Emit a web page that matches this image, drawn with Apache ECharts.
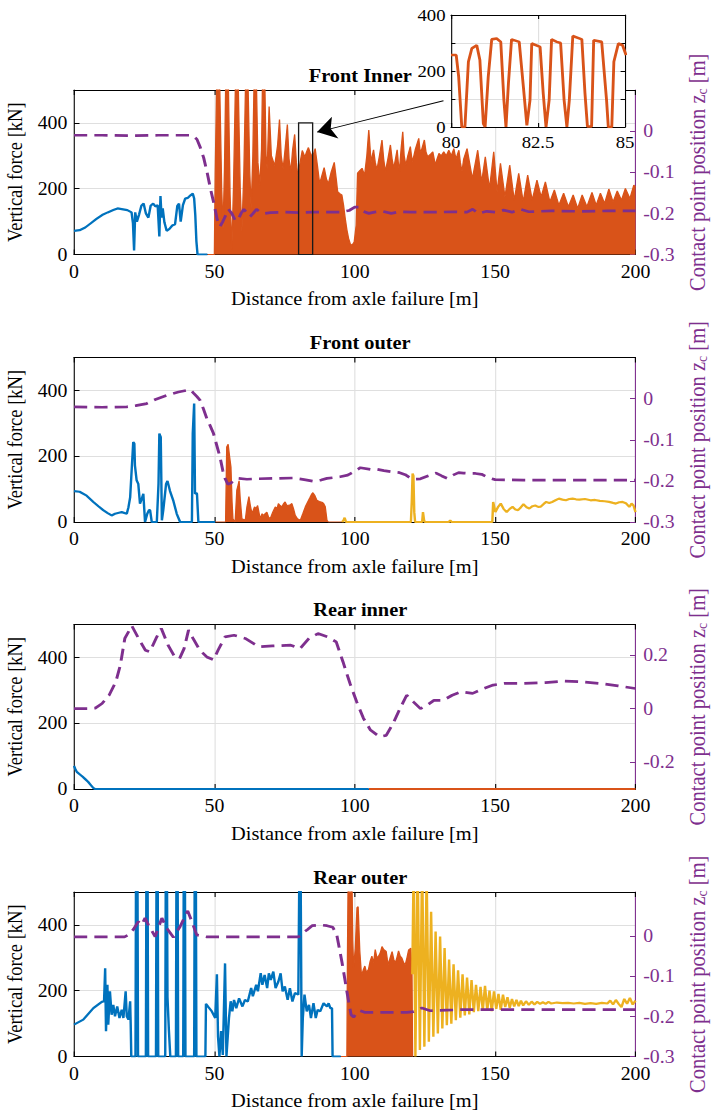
<!DOCTYPE html>
<html>
<head>
<meta charset="utf-8">
<script src="https://cdn.jsdelivr.net/npm/echarts@6/dist/echarts.min.js"></script>
<style>
  html, body { margin: 0; padding: 0; background: #fff; overflow: hidden; }
  #wrap { width: 713px; height: 1116px; overflow: hidden; }
  #chart { width: 648px; height: 1116px; transform: scaleX(1.10031); transform-origin: 0 0; }
</style>
</head>
<body>
<div id="wrap"><div id="chart"></div></div>
<script>
// ---------------------------------------------------------------
// Wheel-rail vertical forces and contact point position after an
// axle failure, four wheels (front/rear, inner/outer).
// Points are [distance (m), force (kN)] or [distance (m), z_c (m)].
// ---------------------------------------------------------------

const panelTitles = ['Front Inner', 'Front outer', 'Rear inner', 'Rear outer'];
const distanceRange = [0, 200, 50];          // min, max, step (m)
const forceRange = [0, 500, 200];            // min, max, step (kN)
const zcRanges = [[-0.3, 0.1], [-0.3, 0.1], [-0.3, 0.314], [-0.3, 0.11]];
const zcTickValues = [
  [-0.3, -0.2, -0.1, 0],
  [-0.3, -0.2, -0.1, 0],
  [-0.2, 0, 0.2],
  [-0.3, -0.2, -0.1, 0]
];
const insetRange = { xMin: 80, xMax: 85, xStep: 2.5, yMin: 0, yMax: 400, yStep: 100 };
const insetYLabels = [0, 200, 400];
const zoomBox = [[80, 0], [85, 400]];
const zoomArrow = [[131.6, 467], [86.6, 372]];

// ---- Front inner ----
const frontInnerBlue = [
  [0,72],[2,74],[4,82],[6,95],[8,108],[10,120],[12,128],[14,135],[15.5,140],[17,138],
  [19,135],[20.5,128],[21,95],[21.4,12],[21.8,128],[22.4,100],[23.2,122],[24,148],
  [24.8,155],[25.6,125],[26.5,112],[27.3,148],[28.2,155],[29,146],[29.8,150],[30.4,55],
  [30.8,178],[31.2,112],[31.6,140],[32.2,98],[33,72],[34,78],[35,88],[36,92],[36.8,148],
  [37.4,155],[38,100],[38.8,150],[39.6,170],[40.5,172],[41.5,180],[42.3,185],[42.8,170],
  [43.2,120],[43.6,40],[44,0],[46,0],[47.5,0]
];
const frontInnerOrange = [
  [47.5,0],[50.0,0],[50.3,250],[50.9,560],[51.8,560],[52.6,200],[53.1,80],[53.6,260],
  [54.1,560],[54.9,560],[55.6,180],[56.2,15],[56.8,200],[57.6,560],[58.4,560],[59.2,200],
  [59.8,70],[60.5,250],[61.2,560],[61.9,560],[62.6,250],[63.1,140],[63.7,300],[64.2,560],
  [64.9,560],[65.5,280],[66.2,210],[66.8,320],[67.2,560],[67.9,560],[68.4,300],[68.8,260],
  [69.5,450],[70.3,300],[71.5,270],[72.5,330],[73.2,410],[73.8,300],[74.5,260],[75.3,330],
  [76.0,395],[76.6,290],[77.2,250],[77.9,320],[78.6,365],[79.2,280],[79.7,240],[80.1,257],
  [80.8,292],[81.3,316],[81.9,304],[82.3,298],[82.9,313],[83.5,325],[84.1,310],[84.8,298],
  [85.3,305],[85.9,322],[86.7,270],[87.5,215],[88.3,240],[89.1,264],[89.9,230],[90.6,215],
  [91.6,250],[92.7,280],[93.4,230],[93.9,191],[94.7,185],[95.4,181],[96.0,150],[96.6,110],
  [97.2,75],[97.8,49],[98.4,32],[99.0,28],[99.8,38],[100.5,89],[101.0,247],[101.8,255],
  [102.6,262],[103.5,241],[104.3,300],[105.0,378],[105.8,282],[106.7,318],[107.3,280],
  [107.9,257],[108.8,300],[109.7,348],[110.3,290],[110.9,252],[111.8,290],[112.7,333],
  [113.3,290],[113.9,262],[114.5,290],[115.1,318],[115.5,280],[115.9,252],[116.5,320],
  [117.1,373],[117.6,300],[118.2,272],[118.9,300],[119.8,328],[120.2,300],[120.6,282],
  [121.6,320],[122.8,353],[123.2,320],[123.6,312],[124.2,330],[124.8,348],[125.4,310],
  [126.0,297],[127.0,305],[127.8,312],[128.3,290],[128.7,272],[129.3,290],[130.0,307],
  [130.8,300],[131.7,312],[132.6,300],[133.5,317],[134.4,300],[135.3,322],[135.8,300],
  [136.2,292],[136.6,305],[137.1,317],[137.6,280],[138.2,252],[138.8,290],[140.0,322],
  [141.9,230],[143.8,317],[145.2,220],[146.5,297],[148.0,200],[149.5,312],[150.7,190],
  [151.9,277],[153.5,175],[155.2,272],[156.8,165],[158.4,247],[160.0,160],[161.6,241],
  [163.2,165],[164.9,226],[166.4,175],[167.9,221],[169.5,160],[171.1,196],[172.7,150],
  [174.4,186],[176.1,145],[177.8,181],[179.4,140],[181.0,181],[182.7,145],[184.5,189],
  [186.0,150],[187.5,186],[189.0,155],[190.5,199],[192.0,160],[193.5,193],[195.0,165],
  [196.4,201],[198.0,170],[199.4,211],[200,205]
];
const frontInnerZc = [
  [0,-0.01],[10,-0.01],[20,-0.011],[30,-0.01],[41,-0.01],[42.5,-0.012],[43.8,-0.02],
  [45,-0.04],[46.2,-0.065],[47.4,-0.1],[48.6,-0.14],[49.8,-0.175],[51,-0.215],[52,-0.232],
  [53,-0.22],[54,-0.205],[55,-0.19],[56.2,-0.2],[57.5,-0.218],[58.5,-0.215],[59.5,-0.2],
  [60.5,-0.19],[61.5,-0.198],[62.7,-0.208],[63.8,-0.2],[65,-0.19],[66.5,-0.198],[68,-0.2],
  [70,-0.198],[75,-0.197],[80,-0.198],[85,-0.197],[90,-0.197],[95,-0.197],[98,-0.193],
  [100,-0.185],[101.5,-0.185],[103,-0.195],[105,-0.2],[107,-0.197],[110,-0.195],[113,-0.2],
  [116,-0.196],[120,-0.197],[125,-0.197],[130,-0.197],[135,-0.196],[140,-0.197],[142,-0.19],
  [144,-0.2],[147,-0.195],[150,-0.197],[153,-0.192],[156,-0.197],[159,-0.19],[162,-0.196],
  [170,-0.194],[180,-0.195],[190,-0.194],[200,-0.194]
];
const frontInnerDetail = [
  [80,257],[80.15,257],[80.22,180],[80.31,0],[80.4,0],[80.5,233],[80.6,281],[80.74,292],
  [80.83,239],[80.93,12],[80.98,0],[81.07,179],[81.17,313],[81.31,316],[81.43,304],
  [81.52,96],[81.58,0],[81.65,155],[81.74,313],[81.96,304],[82.08,143],[82.18,6],
  [82.27,96],[82.32,298],[82.56,286],[82.65,120],[82.73,0],[82.82,96],[82.89,313],
  [83.04,304],[83.15,300],[83.25,96],[83.33,0],[83.4,96],[83.5,325],[83.76,313],
  [83.85,120],[83.92,2],[84.04,2],[84.1,310],[84.33,304],[84.47,96],[84.52,0],[84.62,0],
  [84.68,233],[84.81,298],[84.93,292],[85.03,257]
];

// ---- Front outer ----
const frontOuterBlue = [
  [0,94],[2,92],[4.5,80],[6.9,61],[8.7,48],[10.4,36],[12,27],[13.4,20],[14.6,25],[16,28],
  [17,30],[18.8,25],[19.4,45],[20,75],[20.6,167],[21.1,243],[21.5,238],[21.7,172],
  [22.3,127],[22.9,116],[23.5,56],[24.1,70],[24.7,86],[25.3,0],[26.1,25],[26.7,36],
  [27.1,36],[27.7,0],[29.5,0],[30.1,116],[30.4,269],[30.9,258],[31.3,5],[31.8,36],
  [32.8,116],[33.3,125],[34.2,94],[35.4,64],[36.6,25],[37.8,0],[42,0],[42.3,269],
  [42.8,360],[43.1,86],[43.5,88],[43.8,86],[44.3,0],[50.3,0]
];
const frontOuterOrange = [
  [50.3,0],[54.0,0],[54.4,228],[54.9,236],[55.4,200],[55.9,167],[56.3,60],[56.6,10],
  [57.4,0],[58,97],[58.4,110],[58.8,125],[59.2,70],[59.8,10],[61,5],[61.6,46],[62.3,77],
  [62.8,50],[63.4,25],[64.3,46],[64.8,40],[65.4,50],[66.3,10],[67.0,25],[67.5,20],
  [68.1,25],[68.7,30],[69.3,15],[69.9,10],[70.8,30],[71.7,46],[72.3,40],[72.8,56],
  [73.4,50],[74,46],[74.6,55],[75.2,61],[75.8,50],[76.4,51],[77,52],[77.6,56],[78.2,40],
  [78.8,20],[79.6,10],[80.6,5],[81.5,25],[82.4,46],[83.2,60],[84.1,75],[84.6,84],
  [85.1,89],[85.8,80],[86.5,66],[87.4,62],[88.3,60],[88.9,56],[89.5,46],[90.1,5],
  [90.6,0],[95.5,0]
];
const frontOuterYellow = [
  [95.5,0],[96.0,5],[96.4,13],[96.9,0],[120.0,0],[120.3,60],[120.6,147],[120.9,140],
  [121.2,30],[121.5,0],[124.0,0],[124.3,30],[124.7,5],[125.0,0],[133.5,0],[134,5],
  [134.5,0],[149.0,0],[149.3,61],[150.1,30],[151,45],[152,56],[153,40],[154.1,30],
  [155.2,40],[156.2,46],[157.2,38],[158.2,36],[159.2,45],[160.1,54],[161.2,45],[162.2,41],
  [163.3,48],[164.3,50],[165.3,46],[166.3,47],[167.3,55],[168.2,61],[169.3,58],[170.3,61],
  [171.5,66],[172.7,71],[174,68],[175.2,66],[176.4,70],[177.6,71],[178.8,69],[180,68],
  [182,70],[184,66],[185.6,67],[187.3,64],[189,63],[190.6,61],[192,58],[193,56],
  [194.2,60],[195.4,61],[196.6,57],[197.8,46],[198.6,56],[199.3,50],[200,30]
];
const frontOuterZc = [
  [0,-0.02],[10,-0.021],[18.8,-0.02],[22,-0.017],[25.9,-0.012],[29,-0.002],[33,0.008],
  [37.2,0.016],[40,0.02],[41.4,0.022],[42.5,0.014],[43.8,0.005],[44.9,-0.004],[46.1,-0.025],
  [47.3,-0.048],[48.5,-0.066],[49.7,-0.085],[50.9,-0.115],[52,-0.142],[53,-0.175],
  [53.8,-0.194],[54.8,-0.208],[56,-0.205],[56.8,-0.199],[58.6,-0.194],[61.6,-0.196],
  [65,-0.195],[71,-0.194],[78.2,-0.193],[82,-0.197],[85.3,-0.201],[88,-0.198],[90.1,-0.194],
  [94.8,-0.19],[97.5,-0.186],[99.6,-0.178],[102,-0.168],[105.6,-0.172],[108,-0.172],
  [110.4,-0.175],[113,-0.178],[116,-0.18],[118,-0.185],[120,-0.194],[121.5,-0.196],
  [123.4,-0.195],[126,-0.188],[129,-0.181],[131,-0.188],[133,-0.194],[135,-0.186],
  [137,-0.18],[138.7,-0.181],[141,-0.182],[143,-0.182],[145.2,-0.184],[147.5,-0.192],
  [150,-0.197],[160,-0.198],[170,-0.198],[180,-0.198],[190,-0.198],[200,-0.198]
];

// ---- Rear inner ----
const rearInnerBlue = [
  [0,70],[0.5,60],[1,52],[2,45],[3,38],[4,30],[5,22],[6,12],[7,2],[7.5,0],[105,0]
];
const rearInnerOrange = [[105,0],[200,0]];
const rearInnerZc = [
  [0,0.0],[5,0.0],[7.6,0.002],[10,0.019],[12.5,0.05],[14.9,0.1],[16.5,0.162],[18.1,0.262],
  [20.6,0.309],[23,0.262],[25.4,0.218],[27,0.212],[29.5,0.268],[31.1,0.299],[33.5,0.237],
  [35.9,0.193],[37.6,0.187],[39.2,0.224],[40.8,0.293],[42.4,0.262],[44.8,0.218],[47.3,0.193],
  [49.7,0.182],[51.3,0.218],[53.8,0.268],[57,0.274],[61,0.262],[65.9,0.231],[70.7,0.234],
  [77.2,0.237],[80.5,0.224],[83.7,0.262],[86.9,0.28],[90.2,0.268],[93.4,0.249],[95.8,0.175],
  [98.3,0.094],[100.7,0.025],[103.1,-0.036],[105.6,-0.08],[108.8,-0.105],[111.2,-0.1],
  [113.7,-0.055],[116.1,0.0],[118.5,0.05],[120.9,0.025],[123.4,0.0],[125.8,0.013],
  [128.2,0.031],[131.5,0.031],[134.7,0.05],[137.9,0.063],[142,0.057],[146,0.075],
  [149.3,0.088],[153.3,0.094],[159.8,0.094],[167.9,0.097],[174.4,0.103],[180.8,0.1],
  [187.3,0.094],[193.8,0.085],[200,0.075]
];

// ---- Rear outer ----
const rearOuterBlue = [
  [0,97],[3.3,112],[6.9,147],[9.9,166],[10.7,168],[11.1,268],[11.4,77],[11.9,218],[12.2,97],
  [12.8,198],[13.4,127],[14,157],[14.6,122],[15.4,152],[16.2,117],[17,142],[17.6,117],
  [18.4,198],[18.8,122],[19.4,112],[20,168],[20.2,97],[20.4,0],[21.9,0],[22.1,600],
  [22.6,600],[22.8,0],[25.6,0],[25.8,600],[26.2,600],[26.4,0],[29.2,0],[29.4,600],
  [29.8,600],[30,0],[32.5,0],[32.7,600],[33.1,600],[33.3,180],[33.8,80],[34.3,0],[36.3,0],
  [36.5,600],[36.9,600],[37.1,0],[38.9,0],[39.1,600],[39.5,600],[39.7,0],[42.8,0],[43,600],
  [43.4,600],[43.6,0],[46.8,0],[47,160],[47.9,150],[49.1,137],[50.3,117],[50.9,250],
  [51.3,60],[51.8,0],[52.4,77],[53,5],[53.8,283],[54.3,0],[55.2,117],[55.8,168],[56.4,137],
  [57,172],[57.8,147],[58.8,177],[60,152],[60.9,172],[61.9,167],[63.1,208],[63.7,183],
  [64.9,218],[65.5,198],[66.5,253],[67.1,218],[67.9,248],[68.8,208],[69.4,253],[70.1,233],
  [71,258],[71.8,208],[72.8,228],[73.6,253],[74.3,198],[75.1,213],[76.1,172],[76.9,208],
  [77.8,167],[78.7,193],[79.9,188],[80.3,600],[80.7,600],[81.1,0],[81.5,117],[82.1,188],
  [82.9,137],[83.7,157],[84.4,117],[85.3,162],[86.1,117],[86.8,142],[87.7,137],[88.9,162],
  [90.1,152],[90.7,162],[91.3,147],[91.9,147],[92.1,0],[95,0]
];
const rearOuterOrange = [
  [95,0],[97.2,0],[97.4,300],[97.7,600],[98.9,600],[99.3,350],[99.6,269],[100.2,330],
  [100.8,452],[101.2,455],[101.8,320],[102.4,245],[103,262],[103.6,275],[104.2,255],
  [104.9,265],[105.5,290],[106.1,305],[106.7,285],[107.3,325],[107.9,300],[108.5,305],
  [109.1,315],[109.7,334],[110.3,325],[111.2,319],[111.6,295],[112,279],[112.6,300],
  [113.3,319],[113.9,295],[114.4,284],[115,300],[115.6,321],[116.2,305],[116.8,299],
  [117.4,285],[118,279],[118.6,300],[119.2,324],[120,329],[120.4,248],[120.6,0]
];
const rearOuterYellow = [
  [120.5,250],[121.0,600],[121.6,0],[122.4,600],[123.2,20],[124.0,600],[124.8,30],
  [125.6,560],[126.4,45],[127.2,440],[128.0,60],[128.8,380],[129.6,70],[130.4,365],
  [131.2,85],[132.0,330],[132.8,95],[133.6,295],[134.4,100],[135.2,280],[136.0,110],
  [136.8,262],[137.6,118],[138.4,250],[139.2,125],[140.0,240],[140.8,128],[141.6,232],
  [142.4,135],[143.2,218],[144.0,138],[144.8,212],[145.6,140],[146.4,215],[147.2,140],
  [148.0,200],[148.8,138],[149.6,198],[150.4,145],[151.2,190],[152.0,142],[152.8,188],
  [153.6,150],[154.4,180],[155.2,148],[156.0,175],[156.8,152],[157.6,172],[158.4,153],
  [159.2,170],[160.0,155],[161,168],[162,157],[163,167],[164,158],[165,166],[166,160],
  [167,165],[168,160],[169,166],[170,161],[172,164],[174,162],[176,163],[178,161],
  [180,163],[182,160],[184,162],[186,160],[188,163],[190,161],[191,170],[192,158],
  [193,172],[194,160],[195,150],[196,175],[197,160],[198,178],[199,158],[200,170]
];
const rearOuterZc = [
  [0,-0.002],[10,-0.002],[18,-0.002],[19.4,0.003],[21.1,0.016],[22.9,0.036],[24.1,0.028],
  [25.3,0.045],[26.5,0.028],[28.9,-0.001],[31.3,0.045],[33,0.02],[35.4,-0.003],[37.8,0.024],
  [40.5,0.063],[42,0.036],[43.7,0.003],[47.3,-0.002],[60,-0.002],[70,-0.002],[80,-0.002],
  [81.5,0.008],[83.1,0.016],[84.8,0.026],[87.8,0.028],[90.1,0.026],[92.2,0.022],
  [93.6,0.003],[94.5,-0.03],[95.4,-0.063],[96.3,-0.1],[97.2,-0.138],[98,-0.17],
  [98.7,-0.196],[99.6,-0.202],[100.8,-0.19],[101.9,-0.186],[103.5,-0.19],[105.5,-0.19],
  [110.3,-0.19],[115,-0.19],[118.6,-0.19],[121,-0.188],[123.9,-0.179],[126.9,-0.186],
  [129.3,-0.185],[135,-0.184],[138.8,-0.183],[150,-0.183],[200,-0.183]
];

// ---------------------------------------------------------------
// Layout and styling
// ---------------------------------------------------------------
const SX = 713 / 648;                 // page is drawn narrow and stretched horizontally
const FONT = '"Liberation Serif", "Times New Roman", Times, serif';
const BLUE = '#0072BD', ORANGE = '#D95319', YELLOW = '#EDB120', PURPLE = '#7E2F8E';
const GRIDLINE = '#dfdfdf';
const plotLeft = 74 / SX;
const plotWidth = 561.5 / SX;
const plotTops = [90, 357.5, 624.5, 892];
const plotHeight = 164.5;
const inset = { left: 451 / SX, top: 15, width: 174 / SX, height: 112 };

const TICK_FS = 18, NAME_FS = 18.5, ZC_FS = 20.5, INSET_FS = 17;

function fmtZ(v) {
  if (Math.abs(v) < 1e-9) return '0';
  return String(Math.round(v * 10) / 10);
}

const grids = [];
const xAxes = [];
const yAxes = [];
const titles = [];

plotTops.forEach((top, i) => {
  grids.push({ left: plotLeft, top: top, width: plotWidth, height: plotHeight,
    containLabel: false, outerBoundsMode: 'none', show: false });
  titles.push({
    text: panelTitles[i], left: plotLeft + plotWidth / 2, top: top - 29, textAlign: 'center',
    textStyle: { fontFamily: FONT, fontSize: NAME_FS, fontWeight: 'bold', color: '#000' }
  });
});
plotTops.forEach((top, i) => {
  xAxes.push({
    type: 'value', gridIndex: i, position: 'bottom',
    min: distanceRange[0], max: distanceRange[1], interval: distanceRange[2],
    axisLine: { show: true, onZero: false, lineStyle: { color: '#000', width: 1 } },
    axisTick: { show: true, inside: true, length: 5, lineStyle: { color: '#000', width: 1 } },
    axisLabel: { show: true, color: '#000', fontFamily: FONT, fontSize: TICK_FS, margin: 8 },
    splitLine: { show: true, showMinLine: false, showMaxLine: false, lineStyle: { color: GRIDLINE, width: 1 } },
    name: 'Distance from axle failure [m]', nameLocation: 'middle', nameGap: 35,
    nameTextStyle: { fontFamily: FONT, fontSize: NAME_FS, color: '#000' }
  });
});
plotTops.forEach((top, i) => {
  xAxes.push({
    type: 'value', gridIndex: i, position: 'top',
    min: distanceRange[0], max: distanceRange[1], interval: distanceRange[2],
    axisLine: { show: true, onZero: false, lineStyle: { color: '#000', width: 1 } },
    axisTick: { show: true, inside: true, length: 5, lineStyle: { color: '#000', width: 1 } },
    axisLabel: { show: false }, splitLine: { show: false }
  });
});
plotTops.forEach((top, i) => {
  yAxes.push({
    type: 'value', gridIndex: i, position: 'left',
    min: forceRange[0], max: forceRange[1], interval: forceRange[2],
    axisLine: { show: true, onZero: false, lineStyle: { color: '#000', width: 1 } },
    axisTick: { show: true, inside: true, length: 5, lineStyle: { color: '#000', width: 1 } },
    axisLabel: { show: true, color: '#000', fontFamily: FONT, fontSize: TICK_FS, margin: 6, showMaxLabel: false },
    splitLine: { show: true, showMinLine: false, showMaxLine: false, lineStyle: { color: GRIDLINE, width: 1 } },
    name: 'Vertical force [kN]', nameLocation: 'middle', nameRotate: 90, nameGap: 32,
    nameTextStyle: { fontFamily: FONT, fontSize: NAME_FS, color: '#000' }
  });
});
plotTops.forEach((top, i) => {
  const tv = zcTickValues[i];
  const evenOnly = tv.length === 3;
  yAxes.push({
    type: 'value', gridIndex: i, position: 'right',
    min: zcRanges[i][0], max: zcRanges[i][1], interval: 0.1,
    axisLine: { show: true, onZero: false, lineStyle: { color: PURPLE, width: 1 } },
    axisTick: { show: true, inside: true, length: 5, customValues: tv, lineStyle: { color: PURPLE, width: 1 } },
    axisLabel: {
      show: true, color: PURPLE, fontFamily: FONT, fontSize: TICK_FS, margin: 7, customValues: tv,
      formatter: v => {
        if (v > 0.001 && !evenOnly) return '';
        if (evenOnly && Math.abs(Math.round(v * 10)) % 2 === 1) return '';
        if (v > 0.3) return '';
        return fmtZ(v);
      }
    },
    splitLine: { show: false },
    name: '{n|Contact point position z}{s|c}{n| [m]}', nameLocation: 'middle', nameRotate: 90, nameGap: 43,
    nameTextStyle: {
      fontFamily: FONT, fontSize: ZC_FS, color: PURPLE,
      rich: {
        n: { fontFamily: FONT, fontSize: ZC_FS, color: PURPLE, lineHeight: 21, verticalAlign: 'middle' },
        s: { fontFamily: FONT, fontSize: 14, color: PURPLE, lineHeight: 6, verticalAlign: 'bottom' }
      }
    }
  });
});

// inset (zoomed view of the front inner force)
grids.push({ left: inset.left, top: inset.top, width: inset.width, height: inset.height,
  containLabel: false, outerBoundsMode: 'none', show: true, backgroundColor: '#fff', borderWidth: 0, z: 10 });
xAxes.push({
  type: 'value', gridIndex: 4, position: 'bottom', z: 11,
  min: insetRange.xMin, max: insetRange.xMax, interval: insetRange.xStep,
  axisLine: { show: true, onZero: false, lineStyle: { color: '#000', width: 1 } },
  axisTick: { show: true, inside: true, length: 4, lineStyle: { color: '#000' } },
  axisLabel: { show: true, color: '#000', fontFamily: FONT, fontSize: INSET_FS, lineHeight: 15, margin: 8 },
  splitLine: { show: true, showMinLine: false, showMaxLine: false, lineStyle: { color: GRIDLINE } }
});
xAxes.push({
  type: 'value', gridIndex: 4, position: 'top', z: 11,
  min: insetRange.xMin, max: insetRange.xMax, interval: insetRange.xStep,
  axisLine: { show: true, onZero: false, lineStyle: { color: '#000', width: 1 } },
  axisTick: { show: true, inside: true, length: 4, lineStyle: { color: '#000' } },
  axisLabel: { show: false }, splitLine: { show: false }
});
yAxes.push({
  type: 'value', gridIndex: 4, position: 'left', z: 11,
  min: insetRange.yMin, max: insetRange.yMax, interval: insetRange.yStep,
  axisLine: { show: true, onZero: false, lineStyle: { color: '#000', width: 1 } },
  axisTick: { show: true, inside: true, length: 4, lineStyle: { color: '#000' } },
  axisLabel: { show: true, color: '#000', fontFamily: FONT, fontSize: INSET_FS, lineHeight: 14, margin: 5,
    customValues: insetYLabels,
    formatter: v => (insetYLabels.indexOf(v) >= 0 ? String(v) : '') },
  splitLine: { show: true, showMinLine: false, showMaxLine: false, lineStyle: { color: GRIDLINE } }
});
yAxes.push({
  type: 'value', gridIndex: 4, position: 'right', z: 11,
  min: insetRange.yMin, max: insetRange.yMax, interval: insetRange.yStep,
  axisLine: { show: true, onZero: false, lineStyle: { color: '#000', width: 1 } },
  axisTick: { show: true, inside: true, length: 4, lineStyle: { color: '#000' } },
  axisLabel: { show: false }, splitLine: { show: false }
});

// ---------------------------------------------------------------
// Series
// ---------------------------------------------------------------
function forceLine(data, i, color, z) {
  return { type: 'line', xAxisIndex: i, yAxisIndex: i, data: data, showSymbol: false, symbol: 'none',
    clip: true, z: z || 3, lineStyle: { color: color, width: 2.2 }, itemStyle: { color: color } };
}
function forceArea(data, i) {
  return { type: 'line', xAxisIndex: i, yAxisIndex: i, data: data, showSymbol: false, symbol: 'none',
    clip: true, z: 2, lineStyle: { color: ORANGE, width: 1.2 }, itemStyle: { color: ORANGE },
    areaStyle: { color: ORANGE, opacity: 1, origin: 'start' } };
}
function zcLine(data, i) {
  return { type: 'line', xAxisIndex: i, yAxisIndex: 4 + i, data: data, showSymbol: false, symbol: 'none',
    clip: true, z: 4, lineStyle: { color: PURPLE, width: 2.7, type: [12, 6.5] }, itemStyle: { color: PURPLE } };
}

const frontInnerArea = forceArea(frontInnerOrange, 0);
frontInnerArea.markArea = {
  silent: true, z: 5,
  itemStyle: { color: 'rgba(0,0,0,0)', borderColor: '#1a1a1a', borderWidth: 1.2 },
  label: { show: false },
  data: [[{ coord: zoomBox[0] }, { coord: zoomBox[1] }]]
};

const series = [
  frontInnerArea,
  forceLine(frontInnerBlue, 0, BLUE),
  zcLine(frontInnerZc, 0),
  {
    type: 'lines', coordinateSystem: 'cartesian2d', xAxisIndex: 0, yAxisIndex: 0, z: 6, silent: true,
    symbol: ['none', 'arrow'], symbolSize: 17,
    lineStyle: { color: '#000', width: 1, opacity: 1, curveness: 0 },
    itemStyle: { color: '#000' },
    data: [{ coords: zoomArrow }]
  },

  forceArea(frontOuterOrange, 1),
  forceLine(frontOuterBlue, 1, BLUE),
  forceLine(frontOuterYellow, 1, YELLOW),
  zcLine(frontOuterZc, 1),

  forceLine(rearInnerOrange, 2, ORANGE),
  forceLine(rearInnerBlue, 2, BLUE),
  zcLine(rearInnerZc, 2),

  forceArea(rearOuterOrange, 3),
  forceLine(rearOuterBlue, 3, BLUE),
  forceLine(rearOuterYellow, 3, YELLOW),
  zcLine(rearOuterZc, 3),

  { type: 'line', xAxisIndex: 8, yAxisIndex: 8, data: frontInnerDetail, showSymbol: false, symbol: 'none',
    clip: true, z: 12, lineStyle: { color: ORANGE, width: 2.6 }, itemStyle: { color: ORANGE } }
];

const chart = echarts.init(document.getElementById('chart'), null, { renderer: 'svg' });
chart.setOption({
  animation: false,
  backgroundColor: '#fff',
  textStyle: { fontFamily: FONT },
  title: titles,
  grid: grids,
  xAxis: xAxes,
  yAxis: yAxes,
  series: series
});
</script>
</body>
</html>
